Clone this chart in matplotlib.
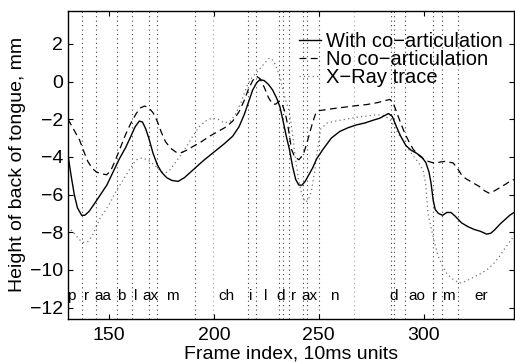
import matplotlib
matplotlib.use("Agg")
import matplotlib.pyplot as plt

plt.rcParams['font.family'] = ['Liberation Sans', 'DejaVu Sans']

# with co-articulation (solid)
x_with = [130.5, 132, 133.5, 135, 137, 138.5, 140.5, 143, 146, 149, 152, 155, 158, 160.5, 162.5,
          164.5, 166, 167.5, 169, 171, 173, 175, 177.5, 180, 183, 186, 190, 195, 200, 205, 209,
          212, 214.5, 216.5, 218.5, 220.5, 222, 224, 226, 228, 230, 231.5, 233, 234.5, 236, 237.5,
          239, 240.5, 242, 243.5, 245, 247, 249, 252, 256, 260, 264, 268, 272, 276, 279, 281.5,
          283.2, 285, 287, 289, 291.5, 294, 296.5, 299, 301, 302.5, 303.5, 304.5, 305.5, 307, 309,
          311, 313, 315, 318, 321, 324, 327, 330, 332, 334, 336.5, 339, 341, 343]
y_with = [-3.9, -5.0, -6.0, -6.7, -7.1, -7.1, -6.9, -6.5, -6.0, -5.5, -4.8, -4.1, -3.5, -2.9, -2.4,
          -2.1, -2.15, -2.5, -3.0, -3.8, -4.4, -4.8, -5.1, -5.25, -5.3, -5.1, -4.7, -4.2, -3.75, -3.3, -2.9,
          -2.4, -1.75, -1.1, -0.45, -0.05, 0.1, 0.05, -0.15, -0.45, -0.9, -1.35, -2.1, -2.9, -3.6, -4.5,
          -5.2, -5.5, -5.5, -5.3, -5.0, -4.6, -4.1, -3.6, -3.0, -2.65, -2.45, -2.3, -2.2, -2.05, -1.95, -1.8,
          -1.7, -1.85, -2.4, -2.9, -3.4, -3.65, -3.8, -4.0, -4.3, -4.8, -5.4, -6.3, -6.8, -7.0, -7.1,
          -6.95, -6.95, -7.15, -7.5, -7.7, -7.85, -7.95, -8.1, -8.05, -7.85, -7.55, -7.3, -7.1, -6.95]

# no co-articulation (dashed)
x_no = [130.5, 132, 134, 136, 138, 140, 142, 144, 146.5, 149, 151, 153, 155.5, 158, 160.5, 163, 165,
        167, 169, 171, 173, 175, 177, 179.5, 182, 184, 187, 190, 194, 198, 202, 206, 209, 212, 214.5,
        216.5, 218.5, 220.3, 222, 224, 226, 228, 229.5, 231, 232.5, 234, 235.5, 237, 238.5, 240.5,
        242.5, 244, 245.5, 247, 248.5, 250, 253, 258, 263, 268, 273, 278, 282, 284, 285.5, 287, 289,
        291, 293, 295, 298, 301, 304, 306, 308, 310, 312, 314, 316, 318, 320, 323, 326.5, 329, 331,
        333, 336, 339, 341, 343]
y_no = [-2.0, -2.3, -2.7, -3.1, -3.7, -4.25, -4.6, -4.8, -4.9, -4.95, -4.7, -4.2, -3.5, -2.8, -2.2, -1.7, -1.4,
        -1.3, -1.4, -1.65, -2.1, -2.7, -3.2, -3.55, -3.75, -3.8, -3.65, -3.45, -3.2, -2.9, -2.65, -2.4, -2.1, -1.6, -1.0,
        -0.4, 0.05, 0.28, 0.15, -0.3, -0.85, -1.2, -1.2, -1.05, -1.2, -1.65, -2.5, -3.6, -4.0, -4.15,
        -3.9, -3.4, -2.8, -2.2, -1.7, -1.55, -1.5, -1.42, -1.35, -1.28, -1.22, -1.12, -1.0, -0.95, -1.15, -1.6, -2.2,
        -2.75, -3.2, -3.6, -3.95, -4.2, -4.3, -4.32, -4.27, -4.24, -4.28, -4.32, -4.6, -4.95, -5.15, -5.35, -5.57, -5.8, -5.92,
        -5.85, -5.65, -5.45, -5.3, -5.2]

# x-ray trace (dotted)
x_xray = [130.5, 133, 136, 138, 140, 142, 144, 146, 148, 150.5, 153, 155.5, 158, 160.5, 163, 166, 169,
          172, 175, 177, 179, 181, 184, 187, 190, 193, 196, 199, 202, 205, 208, 210.5, 213, 215.5, 218,
          221, 224, 226.5, 228.5, 230, 231.5, 233, 234.5, 236, 237.5, 239, 240.5, 242, 243.5, 245, 246.5,
          248, 249.5, 251, 254, 258, 263, 268, 273, 277.5, 281, 283.8, 286, 288, 290, 292.5, 295, 297.5,
          299.7, 301, 302, 303, 305, 307, 309, 311, 314, 317, 320, 323.5, 327, 330, 333, 336, 339, 341, 343]
y_xray = [-7.7, -8.0, -8.4, -8.55, -8.5, -8.2, -7.7, -7.2, -6.9, -6.45, -5.9, -5.45, -5.0, -4.55, -4.15, -4.05, -4.2,
          -4.45, -4.8, -4.85, -4.7, -4.4, -3.95, -3.45, -2.9, -2.4, -2.1, -1.95, -2.0, -2.2, -2.1, -1.7, -1.1, -0.3, 0.2,
          0.55, 0.95, 1.25, 1.1, 0.7, 0.25, -0.5, -1.1, -1.6, -2.8, -4.2, -5.3, -6.0, -6.4, -6.3, -5.8,
          -4.8, -3.5, -2.5, -2.2, -2.1, -2.0, -1.9, -1.83, -1.76, -1.8, -2.0, -2.4, -2.8, -3.1, -3.55, -3.95, -4.3,
          -4.7, -5.5, -7.0, -7.5, -8.5, -9.3, -9.8, -10.2, -10.5, -10.7, -10.6, -10.4, -10.2, -10.0, -9.7, -9.3, -8.8, -8.5, -8.2]

# phone boundaries and labels
bounds = [137, 144, 154, 161, 169, 173, 191, 216.5, 220, 231, 233, 236, 242.5, 244.5, 250,
          284.5, 286, 291, 304.5, 308.5, 316.5]
bounds_gray = [199.5, 267]
phones = ['p', 'r', 'aa', 'b', 'l', 'ax', 'm', 'ch', 'i', 'l', 'd', 'r', 'ax', 'n',
          'd', 'ao', 'r', 'm', 'er']
phone_x = [132, 139.3, 147.1, 155.9, 162.6, 170, 180, 205.9, 217.6, 224.8, 232, 238.1, 245.6, 257.4,
           285.7, 296.5, 305, 311.9, 327.6]

fig = plt.figure(figsize=(5.15, 3.62), dpi=100)
ax = fig.add_axes([0.132, 0.119, 0.866, 0.851])

for b in bounds:
    ax.axvline(b, color='0.25', lw=0.8, ls=(0, (1, 3)), zorder=1)
for b in bounds_gray:
    ax.axvline(b, color='0.65', lw=0.8, ls=(0, (1, 3)), zorder=1)

ax.plot(x_with, y_with, color='k', lw=1.0, label='With co\u2212articulation', zorder=3)
ax.plot(x_no, y_no, color='k', lw=0.9, ls=(0, (5.5, 3.5)), label='No co\u2212articulation', zorder=3)
ax.plot(x_xray, y_xray, color='0.45', lw=0.9, ls=(0, (1, 2.5)), label='X\u2212Ray trace', zorder=2)

for ph, px in zip(phones, phone_x):
    ax.text(px, -11.4, ph, ha='center', va='center', fontsize=11)

ax.set_xlim(130.5, 343)
ax.set_ylim(-12.6, 3.75)
ax.set_xticks([150, 200, 250, 300])
ax.set_yticks(range(-12, 3, 2))
ax.tick_params(direction='in', top=True, right=True, length=3.5, labelsize=14)
ax.tick_params(axis='x', pad=6)
for s in ax.spines.values():
    s.set_linewidth(1.0)

ax.set_xlabel('Frame index, 10ms units', fontsize=14, labelpad=1)
ax.set_ylabel('Height of back of tongue, mm', fontsize=14, labelpad=3)

ax.legend(loc='upper right', bbox_to_anchor=(0.975, 0.93), frameon=False, fontsize=14.5,
          handlelength=1.1, handletextpad=0.25, labelspacing=-0.05, borderpad=0, borderaxespad=0)

fig.savefig('out.png', dpi=100)
